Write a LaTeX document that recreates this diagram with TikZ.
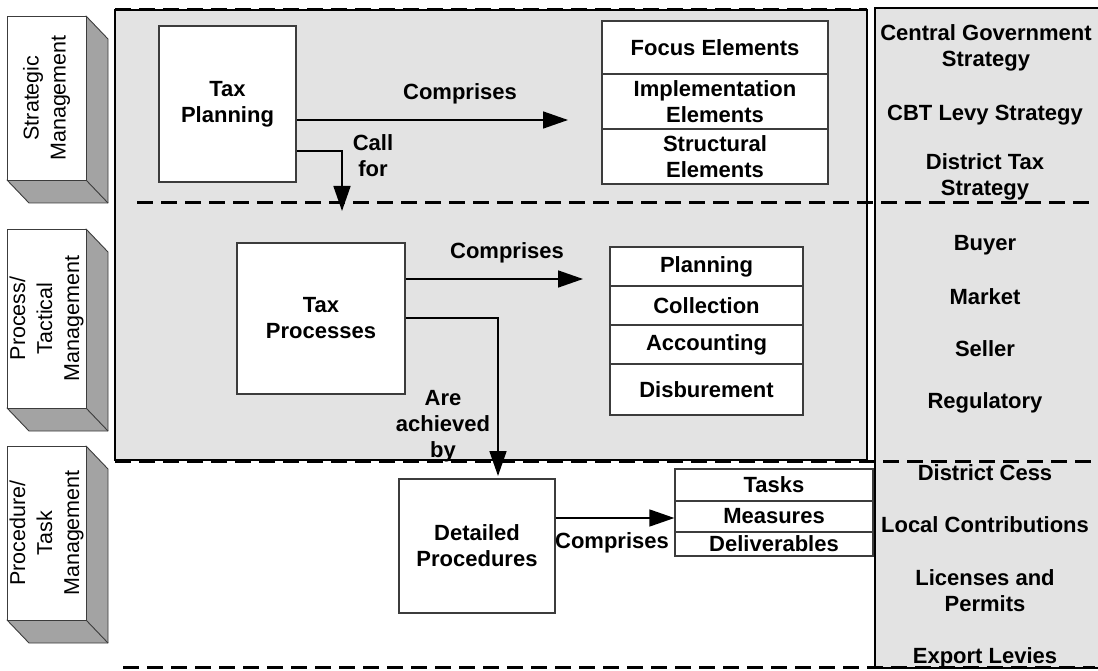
\documentclass[tikz,border=0pt]{standalone}
\usepackage{fontspec}
\setmainfont{Liberation Sans}
\usetikzlibrary{arrows.meta}
\definecolor{panel}{HTML}{E3E3E3}
\definecolor{side}{HTML}{A3A3A3}
\definecolor{edge}{HTML}{3C3C3C}

\begin{document}
\begin{tikzpicture}[x=1pt,y=-1pt,
  lbl/.style={font=\bfseries\fontsize{22}{26}\selectfont, align=center, inner sep=0pt},
  card/.style={draw=edge, fill=white, line width=1.3pt, inner sep=0pt,
    font=\bfseries\fontsize{22}{26}\selectfont, align=center},
  front/.style={draw=edge, fill=white, line width=0.9pt, inner sep=0pt, rotate=90,
    font=\fontsize{21.5}{27}\selectfont, align=center},
  depth/.style={fill=side, draw=edge, line width=0.9pt, line join=round},
  conn/.style={line width=1.6pt, -{Triangle[length=25pt,width=17pt]}},
  divider/.style={line width=3pt, dash pattern=on 16pt off 8pt},
  panelbox/.style={draw=black, fill=panel, line width=1.8pt},
]
\useasboundingbox (0,0) rectangle (1098,671);
\clip (0,0) rectangle (1098,671);

% ---------- management level blocks (3D slabs) ----------
\filldraw[depth] (86,16) -- (108,39) -- (108,203) -- (29,203) -- (7,180) -- (86,180) -- cycle;
\draw[edge, line width=0.9pt] (86,180) -- (108,203);
\node[front, minimum width=164pt, minimum height=79pt] (lv1) at (46.5,98) {Strategic\\Management};

\filldraw[depth] (86,229) -- (108,252) -- (108,431) -- (29,431) -- (7,408) -- (86,408) -- cycle;
\draw[edge, line width=0.9pt] (86,408) -- (108,431);
\node[front, minimum width=179pt, minimum height=79pt] (lv2) at (46.5,318.5) {Process/\\Tactical\\Management};

\filldraw[depth] (86,446) -- (108,469) -- (108,643) -- (29,643) -- (7,620) -- (86,620) -- cycle;
\draw[edge, line width=0.9pt] (86,620) -- (108,643);
\node[front, minimum width=174pt, minimum height=79pt] (lv3) at (46.5,533) {Procedure/\\Task\\Management};

% ---------- background panels ----------
\filldraw[panelbox] (115,10) rectangle (867,460);
\filldraw[panelbox] (875,8) rectangle (1120,668);

% ---------- level separators ----------
\draw[divider] (115,10) -- (867,10);
\draw[divider] (137,203) -- (1095,203);
\draw[divider] (115,461) -- (1095,461);
\draw[divider] (123,667) -- (1095,667);

% ---------- strategic level ----------
\node[card, minimum width=137pt, minimum height=156pt] (tp) at (227.5,104) {Tax\\Planning};
\node[card, minimum width=226pt, minimum height=53pt] (fe1) at (715,47.5) {Focus Elements};
\node[card, minimum width=226pt, minimum height=55pt] (fe2) at (715,101.5) {Implementation\\Elements};
\node[card, minimum width=226pt, minimum height=55pt] (fe3) at (715,156.5) {Structural\\Elements};

% ---------- process level ----------
\node[card, minimum width=168pt, minimum height=151pt] (tx) at (321,318.5) {Tax\\Processes};
\node[card, minimum width=193pt, minimum height=39pt] (pr1) at (706.5,266.5) {Planning};
\node[card, minimum width=193pt, minimum height=39pt] (pr2) at (706.5,305.5) {Collection};
\node[card, minimum width=193pt, minimum height=39pt] (pr3) at (706.5,344.5) {Accounting};
\node[card, minimum width=193pt, minimum height=51pt] (pr4) at (706.5,389.5) {Disburement};

% ---------- procedure level ----------
\node[card, minimum width=156pt, minimum height=134pt] (dp) at (477,546) {Detailed\\Procedures};
\node[card, minimum width=198pt, minimum height=32pt] (ts1) at (774,485) {Tasks};
\node[card, minimum width=198pt, minimum height=31pt] (ts2) at (774,516.5) {Measures};
\node[card, minimum width=198pt, minimum height=24pt] (ts3) at (774,544) {Deliverables};

% ---------- connectors ----------
\coordinate (c1) at (568,120);
\draw[conn] (tp.east |- c1) -- (c1);
\coordinate (c2) at (342,211);
\draw[conn] (tp.east |- 0,151) -| (c2);
\coordinate (c3) at (583,279);
\draw[conn] (tx.east |- c3) -- (c3);
\coordinate (c4) at (498,476);
\draw[conn] (tx.east |- 0,318) -| (c4);
\draw[conn] (dp.east |- 0,518) -- (ts2.west |- 0,518);

% ---------- connector labels ----------
\node[lbl] (l1) at (460,94) {Comprises};
\node[lbl] (l2) at (373,156) {Call\\for};
\node[lbl] (l3) at (507,253) {Comprises};
\node[lbl] (l4) at (443,426) {Are\\achieved\\by};
\node[lbl] (l5) at (612,543) {Comprises};

% ---------- right column ----------
\node[lbl] (r1) at (986,48) {Central Government\\Strategy};
\node[lbl] (r2) at (985,115) {CBT Levy Strategy};
\node[lbl] (r3) at (985,177) {District Tax\\Strategy};
\node[lbl] (r4) at (985,245) {Buyer};
\node[lbl] (r5) at (985,297) {Market};
\node[lbl] (r6) at (985,349) {Seller};
\node[lbl] (r7) at (985,403) {Regulatory};
\node[lbl] (r8) at (985,473) {District Cess};
\node[lbl] (r9) at (985,525) {Local Contributions};
\node[lbl] (r10) at (985,591) {Licenses and\\Permits};
\node[lbl] (r11) at (985,658) {Export Levies};
\end{tikzpicture}
\end{document}
